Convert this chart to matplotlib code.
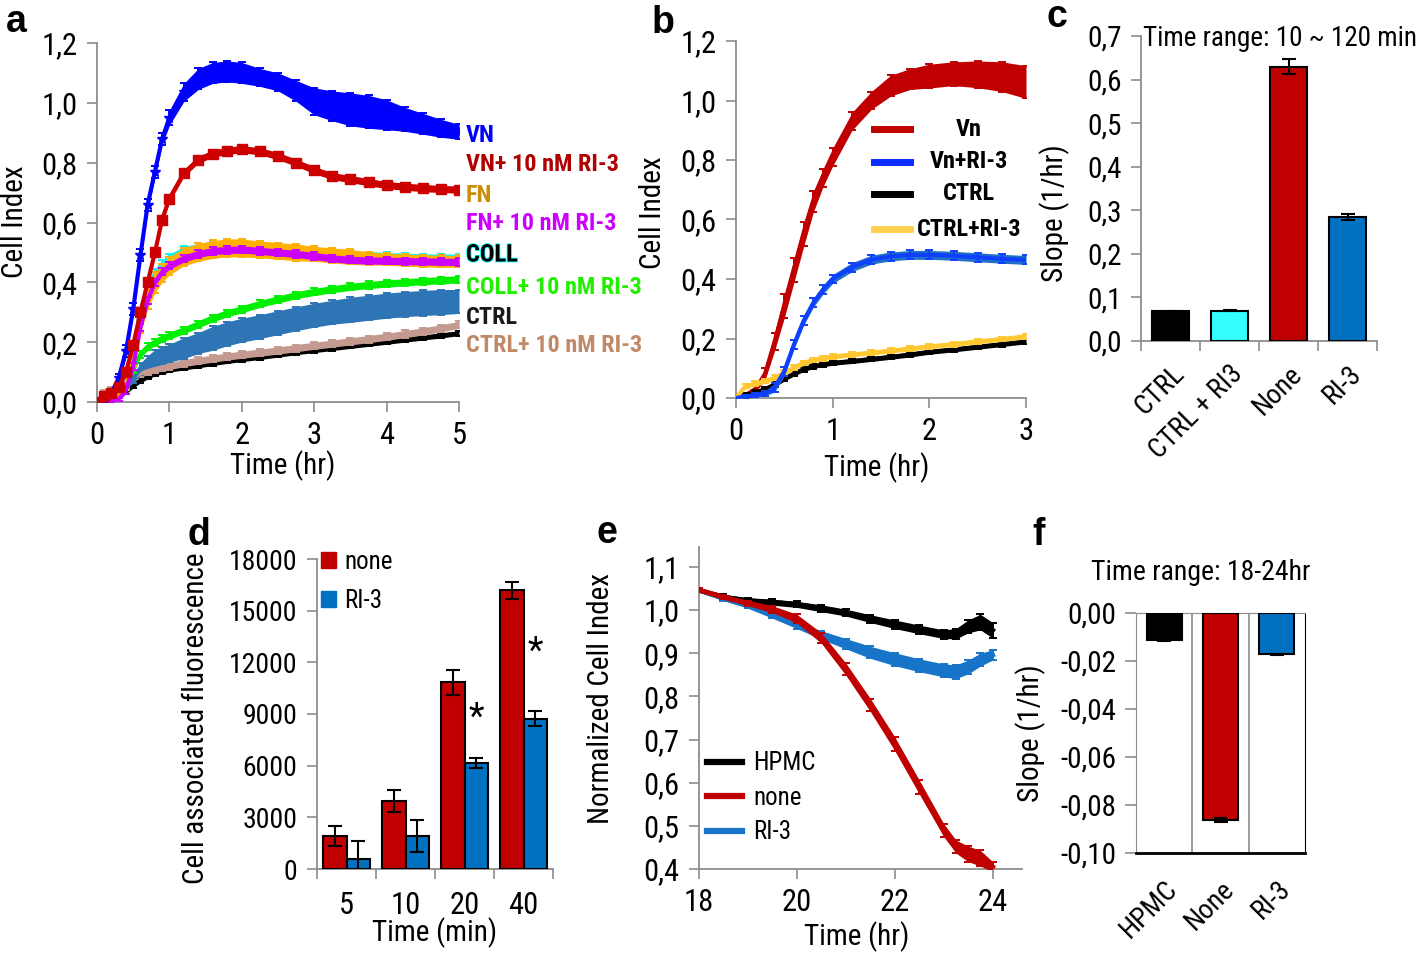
import matplotlib.pyplot as plt
import numpy as np
import matplotlib.patheffects as pe
from matplotlib import font_manager
from matplotlib.lines import Line2D
from matplotlib.patches import Patch
from matplotlib.ticker import FuncFormatter

installed = {f.name for f in font_manager.fontManager.ttflist}
narrow = next((n for n in ['Liberation Sans Narrow', 'Roboto Condensed', 'Open Sans Condensed']
               if n in installed), 'Liberation Sans')
plt.rcParams['font.family'] = [narrow, 'DejaVu Sans']

W, H = 1418, 956
GREY = '#8c8c8c'
RED = '#c00000'
BLUE = '#0070c0'

# ---- a: adhesion on different matrices ----
t_a = [0, 0.1, 0.2, 0.3, 0.4, 0.5, 0.6, 0.7, 0.8, 0.9, 1.0, 1.2, 1.4, 1.6, 1.8, 2.0,
       2.25, 2.5, 2.75, 3.0, 3.25, 3.5, 3.75, 4.0, 4.25, 4.5, 4.75, 5.0]
vn = [0.0, 0.01, 0.03, 0.08, 0.17, 0.31, 0.49, 0.66, 0.77, 0.88, 0.95, 1.035, 1.08, 1.10, 1.105,
      1.10, 1.085, 1.07, 1.04, 1.005, 0.99, 0.978, 0.97, 0.96, 0.945, 0.93, 0.915, 0.903]
vn_err = [0, 0.005, 0.01, 0.015, 0.02, 0.02, 0.02, 0.02, 0.02, 0.02, 0.025, 0.03, 0.035, 0.035,
          0.035, 0.035, 0.03, 0.03, 0.035, 0.045, 0.05, 0.055, 0.055, 0.05, 0.04, 0.035, 0.03, 0.025]
vn_ri3 = [0.0, 0.02, 0.03, 0.05, 0.10, 0.19, 0.30, 0.40, 0.50, 0.61, 0.68, 0.765, 0.81, 0.83, 0.84,
          0.845, 0.838, 0.822, 0.80, 0.775, 0.755, 0.745, 0.735, 0.725, 0.72, 0.715, 0.712, 0.71]
vn_ri3_err = [0, 0.005, 0.01, 0.01] + [0.012] * 24
fn = [0.0, 0.01, 0.02, 0.03, 0.06, 0.15, 0.27, 0.35, 0.40, 0.43, 0.455, 0.485, 0.50, 0.51, 0.515,
      0.515, 0.51, 0.505, 0.50, 0.495, 0.49, 0.485, 0.48, 0.477, 0.474, 0.472, 0.47, 0.47]
fn_err = [0, 0.005, 0.01, 0.01, 0.02, 0.03, 0.04, 0.04, 0.035, 0.03, 0.03, 0.03, 0.03, 0.03, 0.03,
          0.03, 0.028, 0.028, 0.028, 0.025, 0.025, 0.025, 0.022, 0.02, 0.02, 0.02, 0.02, 0.02]
fn_ri3 = [0.0, 0.0, 0.005, 0.01, 0.04, 0.12, 0.25, 0.34, 0.40, 0.435, 0.455, 0.48, 0.495, 0.505,
          0.508, 0.51, 0.505, 0.50, 0.495, 0.488, 0.48, 0.475, 0.473, 0.472, 0.471, 0.47, 0.469, 0.468]
fn_ri3_err = [0, 0, 0.005, 0.005] + [0.012] * 24
coll = [0.0, 0.01, 0.02, 0.035, 0.07, 0.17, 0.29, 0.38, 0.43, 0.46, 0.48, 0.505, 0.515, 0.52, 0.522,
        0.52, 0.515, 0.51, 0.505, 0.50, 0.495, 0.49, 0.488, 0.485, 0.483, 0.48, 0.48, 0.48]
coll_err = [0, 0.005, 0.01, 0.01] + [0.015] * 24
coll_ri3 = [0.0, 0.01, 0.02, 0.03, 0.06, 0.11, 0.16, 0.185, 0.20, 0.213, 0.222, 0.24, 0.26, 0.28,
            0.297, 0.31, 0.328, 0.343, 0.357, 0.368, 0.377, 0.385, 0.391, 0.396, 0.40, 0.404, 0.407, 0.41]
coll_ri3_err = [0, 0.005, 0.005, 0.008] + [0.012] * 24
ctrl_sd = [0.0, 0.01, 0.02, 0.03, 0.05, 0.08, 0.11, 0.13, 0.145, 0.155, 0.163, 0.18, 0.197, 0.213,
           0.228, 0.24, 0.252, 0.265, 0.278, 0.29, 0.30, 0.308, 0.315, 0.322, 0.327, 0.331, 0.334, 0.336]
ctrl_sd_err = [0, 0, 0.005, 0.005, 0.01, 0.015, 0.02, 0.025, 0.03, 0.03, 0.03, 0.035, 0.035, 0.04,
               0.04, 0.04, 0.04, 0.04, 0.04, 0.04, 0.04, 0.042, 0.042, 0.042, 0.042, 0.042, 0.042, 0.04]
ctrl_ri3 = [0.0, 0.03, 0.04, 0.055, 0.07, 0.085, 0.095, 0.103, 0.11, 0.116, 0.12, 0.13, 0.138, 0.145,
            0.152, 0.158, 0.165, 0.172, 0.18, 0.188, 0.195, 0.203, 0.21, 0.218, 0.227, 0.236, 0.246, 0.258]
ctrl_ri3_err = [0, 0.01, 0.01, 0.012] + [0.012] * 24
ctrl = [0.0, 0.005, 0.01, 0.02, 0.035, 0.055, 0.072, 0.085, 0.095, 0.102, 0.108, 0.115, 0.122, 0.13,
        0.137, 0.143, 0.15, 0.158, 0.166, 0.173, 0.18, 0.187, 0.194, 0.201, 0.208, 0.215, 0.222, 0.23]
ctrl_err = [0, 0.004, 0.005, 0.006] + [0.008] * 24
a_labels = ['VN', 'VN+ 10 nM RI-3', 'FN', 'FN+ 10 nM RI-3', 'COLL', 'COLL+ 10 nM RI-3',
            'CTRL', 'CTRL+ 10 nM RI-3']

# ---- b: Vn +/- RI-3 ----
t_b = [0, 0.1, 0.2, 0.3, 0.4, 0.5, 0.6, 0.7, 0.8, 0.9, 1.0, 1.2, 1.4, 1.6, 1.8, 2.0, 2.25, 2.5, 2.75, 3.0]
b_vn = [0.0, 0.01, 0.03, 0.08, 0.19, 0.31, 0.43, 0.55, 0.66, 0.74, 0.81, 0.93, 1.0, 1.05, 1.072,
        1.082, 1.09, 1.088, 1.08, 1.062]
b_vn_err = [0, 0.005, 0.01, 0.02, 0.03, 0.04, 0.04, 0.04, 0.035, 0.03, 0.03, 0.03, 0.03, 0.035,
            0.035, 0.04, 0.04, 0.045, 0.05, 0.055]
b_vn_ri3 = [0.0, 0.005, 0.01, 0.015, 0.035, 0.09, 0.18, 0.26, 0.32, 0.364, 0.40, 0.44, 0.465, 0.476,
            0.481, 0.481, 0.478, 0.473, 0.468, 0.464]
b_vn_ri3_err = [0, 0.004, 0.006, 0.008] + [0.015] * 16
b_ctrl = [0.0, 0.01, 0.018, 0.03, 0.045, 0.065, 0.082, 0.097, 0.107, 0.113, 0.118, 0.124, 0.131,
          0.138, 0.146, 0.155, 0.163, 0.172, 0.181, 0.19]
b_ctrl_ri3 = [0.0, 0.04, 0.048, 0.057, 0.068, 0.085, 0.102, 0.118, 0.128, 0.134, 0.139, 0.146, 0.152,
              0.159, 0.166, 0.173, 0.181, 0.19, 0.198, 0.207]
b_small_err = [0] + [0.008] * 19
b_labels = ['Vn', 'Vn+RI-3', 'CTRL', 'CTRL+RI-3']

# ---- c: slopes 10-120 min ----
c_groups = ['CTRL', 'CTRL + RI3', 'None', 'RI-3']
c_slope = [0.068, 0.070, 0.630, 0.285]
c_err = [0.002, 0.001, 0.018, 0.007]

# ---- d: cell associated fluorescence ----
d_times = ['5', '10', '20', '40']
d_none = [1920, 3950, 10850, 16180]
d_none_err = [580, 640, 720, 480]
d_ri3 = [560, 1920, 6130, 8730]
d_ri3_err = [1080, 930, 290, 445]
d_star_y = [8800, 12600]

# ---- e: normalized cell index 18-24 hr ----
t_e = [18, 18.5, 19, 19.5, 20, 20.5, 21, 21.5, 22, 22.5, 23, 23.25, 23.5, 23.75, 24]
e_hpmc = [1.046, 1.03, 1.022, 1.018, 1.013, 1.004, 0.994, 0.98, 0.967, 0.955, 0.944, 0.945,
          0.962, 0.972, 0.953]
e_hpmc_err = [0.005, 0.006, 0.006, 0.007, 0.007, 0.008, 0.008, 0.009, 0.01, 0.01, 0.01, 0.012,
              0.015, 0.018, 0.018]
e_none = [1.046, 1.03, 1.016, 1.002, 0.98, 0.935, 0.863, 0.78, 0.69, 0.59, 0.49, 0.452, 0.435,
          0.425, 0.405]
e_none_err = [0.004, 0.005, 0.006, 0.008, 0.01, 0.012, 0.014, 0.015, 0.016, 0.016, 0.015, 0.015,
              0.018, 0.018, 0.012]
e_ri3 = [1.046, 1.027, 1.01, 0.988, 0.965, 0.942, 0.922, 0.902, 0.886, 0.872, 0.86, 0.857, 0.868,
         0.885, 0.896]
e_ri3_err = [0.004, 0.005, 0.006, 0.007, 0.008, 0.01, 0.012, 0.014, 0.015, 0.015, 0.015, 0.016,
             0.016, 0.015, 0.012]
e_labels = ['HPMC', 'none', 'RI-3']

# ---- f: slopes 18-24 hr ----
f_groups = ['HPMC', 'None', 'RI-3']
f_slope = [-0.0113, -0.0862, -0.0172]
f_err = [0.0003, 0.0008, 0.0002]


def box(l, t, r, b):
    return [l / W, 1 - b / H, (r - l) / W, (b - t) / H]


def ftext(x, y, s, **kw):
    return fig.text(x / W, 1 - y / H, s, **kw)


def comma(nd):
    return FuncFormatter(lambda v, p: f'{0 if abs(v) < 1e-9 else v:.{nd}f}'.replace('.', ','))


def style(ax, size=21):
    for s in ['top', 'right']:
        ax.spines[s].set_visible(False)
    for s in ['left', 'bottom']:
        ax.spines[s].set_color(GREY)
        ax.spines[s].set_linewidth(1.3)
    ax.tick_params(direction='out', length=7, width=1.2, color=GREY, labelsize=size, pad=7)


def band(ax, t, v, e, color, z, cap=None, marker=None, lw=3):
    t, v, e = np.asarray(t), np.asarray(v), np.asarray(e)
    ax.fill_between(t, v - e, v + e, color=color, lw=0, zorder=z)
    ax.errorbar(t, v, yerr=e, color=cap or color, lw=lw, elinewidth=1.4, capsize=3, capthick=1.4,
                marker=marker, ms=7, zorder=z)


fig = plt.figure(figsize=(W / 100, H / 100), dpi=100)

# ================= a =================
ax = fig.add_axes(box(97, 43, 459, 402))
style(ax, 22)
band(ax, t_a, ctrl, ctrl_err, 'black', 2)
band(ax, t_a, ctrl_ri3, ctrl_ri3_err, '#c49a90', 3)
band(ax, t_a, ctrl_sd, ctrl_sd_err, '#2e75b6', 3)
band(ax, t_a, coll_ri3, coll_ri3_err, '#00f000', 4)
band(ax, t_a, coll, coll_err, '#19f0f0', 4)
band(ax, t_a, fn, fn_err, '#ffb000', 5)
band(ax, t_a, fn_ri3, fn_ri3_err, '#cc00ff', 6)
band(ax, t_a, vn, vn_err, '#0000ff', 7, marker='*')
band(ax, t_a, vn_ri3, vn_ri3_err, '#cc0000', 8, marker='s')
ax.set_xlim(0, 5)
ax.set_ylim(0, 1.2)
ax.set_xticks(range(6))
ax.set_yticks(np.arange(0, 1.21, 0.2))
ax.yaxis.set_major_formatter(comma(1))

a_colors = ['#0000ff', '#b00000', '#c8900a', '#cc00ff', 'black', '#22ee00', '#1a1a1a', '#c08a68']
a_ys = [135, 165, 195, 224, 255, 287, 317, 346]
for lab, col, y in zip(a_labels, a_colors, a_ys):
    t = ftext(466, y, lab, color=col, fontsize=17.5, fontweight='bold', ha='left', va='center')
    if lab == 'COLL':
        t.set_path_effects([pe.withStroke(linewidth=1.2, foreground='#00ffff')])

# ================= b =================
ax = fig.add_axes(box(736, 41, 1026, 398))
style(ax, 22)
band(ax, t_b, b_vn, b_vn_err, '#c00000', 3)
band(ax, t_b, b_ctrl, b_small_err, 'black', 4)
band(ax, t_b, b_ctrl_ri3, b_small_err, '#ffd050', 5, cap='#ffc830')
band(ax, t_b, b_vn_ri3, b_vn_ri3_err, '#1f72c4', 6, cap='#1040ff')
ax.set_xlim(0, 3)
ax.set_ylim(0, 1.2)
ax.set_xticks(range(4))
ax.set_yticks(np.arange(0, 1.21, 0.2))
ax.yaxis.set_major_formatter(comma(1))

b_key_colors = ['#c00000', '#0a2cff', 'black', '#ffd050']
for lab, col, y in zip(b_labels, b_key_colors, [129, 162, 194, 229]):
    fig.add_artist(Line2D([874 / W, 910 / W], [1 - y / H] * 2, color=col, lw=5))
    ftext(969, y, lab, fontsize=17.5, fontweight='bold', ha='center', va='center')

# ================= c =================
ax = fig.add_axes(box(1141, 36, 1377, 341))
style(ax, 21)
xc = np.arange(len(c_groups))
ax.bar(xc, c_slope, width=0.64, color=['black', '#33ffff', RED, BLUE], edgecolor='black', lw=1.5,
       yerr=c_err, capsize=5, error_kw=dict(elinewidth=1.5, capthick=1.5), zorder=3)
ax.set_xlim(-0.5, 3.5)
ax.set_ylim(0, 0.7)
ax.set_yticks(np.arange(0, 0.71, 0.1))
ax.yaxis.set_major_formatter(comma(1))
ax.set_xticks(xc)
ax.set_xticklabels(c_groups, rotation=45, ha='right', va='top', rotation_mode='anchor', fontsize=20)
ax.tick_params(axis='x', which='major', length=0, pad=14)
ax.set_xticks(np.arange(-0.5, 3.6, 1), minor=True)
ax.tick_params(axis='x', which='minor', length=7, width=1.2, color=GREY)

# ================= d =================
ax = fig.add_axes(box(317, 559, 553, 869))
style(ax, 20)
xd = np.arange(len(d_times))
ekw = dict(elinewidth=1.5, capthick=1.5)
ax.bar(xd - 0.2, d_none, 0.4, color=RED, edgecolor='black', lw=1.5, yerr=d_none_err, capsize=5,
       error_kw=ekw, label='none', zorder=3)
ax.bar(xd + 0.2, d_ri3, 0.4, color=BLUE, edgecolor='black', lw=1.5, yerr=d_ri3_err, capsize=5,
       error_kw=ekw, label='RI-3', zorder=3)
for x, y in zip(xd[2:] + 0.2, d_star_y):
    ax.text(x, y, '*', ha='center', va='center', fontsize=26)
ax.set_xlim(-0.5, 3.5)
ax.set_ylim(0, 18000)
ax.set_yticks(np.arange(0, 18001, 3000))
ax.set_xticks(xd)
ax.set_xticklabels(d_times, fontsize=22)
ax.tick_params(axis='x', which='major', length=0, pad=16)
ax.set_xticks(np.arange(-0.5, 3.6, 1), minor=True)
ax.tick_params(axis='x', which='minor', length=7, width=1.2, color=GREY)
ax.legend(handles=[Patch(facecolor=RED, edgecolor=RED), Patch(facecolor=BLUE, edgecolor=BLUE)],
          labels=['none', 'RI-3'], loc='upper left', bbox_to_anchor=(0.015, 1.03), frameon=False,
          fontsize=18, handlelength=0.6, handleheight=0.6, handletextpad=0.35, labelspacing=0.6,
          borderpad=0, borderaxespad=0)

# ================= e =================
ax = fig.add_axes(box(699, 547, 1022, 869))
style(ax, 22)
band(ax, t_e, e_hpmc, e_hpmc_err, 'black', 3, lw=3.5)
band(ax, t_e, e_ri3, e_ri3_err, '#1874c8', 4, lw=3.5)
band(ax, t_e, e_none, e_none_err, '#c00000', 5, lw=3.5)
ax.set_xlim(18, 24.6)
ax.set_ylim(0.4, 1.146)
ax.set_xticks([18, 20, 22, 24])
ax.set_yticks(np.arange(0.4, 1.11, 0.1))
ax.yaxis.set_major_formatter(comma(1))
ax.legend(handles=[Line2D([], [], color=c, lw=4.5) for c in ['black', '#c00000', '#1874c8']],
          labels=e_labels, loc='upper left', bbox_to_anchor=(0.025, 0.365), frameon=False,
          fontsize=18, handlelength=1.4, handletextpad=0.45, labelspacing=0.42, borderpad=0,
          borderaxespad=0)

# ================= f =================
ax = fig.add_axes(box(1136, 613, 1305, 853))
xf = np.arange(len(f_groups))
ax.bar(xf, f_slope, width=0.62, color=['black', RED, BLUE], edgecolor='black', lw=1.5,
       yerr=f_err, capsize=5, error_kw=dict(elinewidth=1.5, capthick=1.5), zorder=3)
ax.set_xlim(-0.5, 2.5)
ax.set_ylim(-0.1, 0)
ax.set_yticks(np.arange(-0.1, 0.001, 0.02))
ax.yaxis.set_major_formatter(comma(2))
for s in ['top', 'left']:
    ax.spines[s].set_color(GREY)
ax.spines['right'].set_color('black')
ax.spines['bottom'].set_color('black')
ax.spines['bottom'].set_linewidth(2)
ax.tick_params(axis='y', direction='out', length=8, width=1.2, color=GREY, labelsize=21, pad=6)
ax.set_xticks(xf)
ax.set_xticklabels(f_groups, rotation=45, ha='right', va='top', rotation_mode='anchor', fontsize=20)
ax.tick_params(axis='x', which='major', length=0, pad=16)
ax.set_xticks([0.5, 1.5], minor=True)
ax.tick_params(axis='x', which='minor', length=0)
ax.grid(which='minor', axis='x', color=GREY, lw=1.2)

# ================= labels =================
for s, x, y in [('a', 16, 32), ('b', 663, 33), ('c', 1057, 27), ('d', 199, 545), ('e', 607, 543),
                ('f', 1039, 545)]:
    ftext(x, y, s, fontsize=27, fontweight='bold', family='Liberation Sans', ha='center', va='baseline')

for s, x, y in [('Cell Index', 15, 222), ('Cell Index', 653, 213), ('Slope (1/hr)', 1055, 213),
                ('Cell associated fluorescence', 196, 718), ('Normalized Cell Index', 601, 699),
                ('Slope (1/hr)', 1031, 733)]:
    ftext(x, y, s, fontsize=21, rotation=90, ha='center', va='center')

for x, y in [(283, 466), (877, 468), (857, 937)]:
    ftext(x, y, 'Time (hr)', fontsize=21, ha='center', va='center')
ftext(435, 933, 'Time (min)', fontsize=21, ha='center', va='center')
ftext(1143, 38, 'Time range: 10 ~ 120 min', fontsize=19.5, ha='left', va='center')
ftext(1201, 572, 'Time range: 18-24hr', fontsize=20, ha='center', va='center')

fig.savefig('out.png', dpi=100)
